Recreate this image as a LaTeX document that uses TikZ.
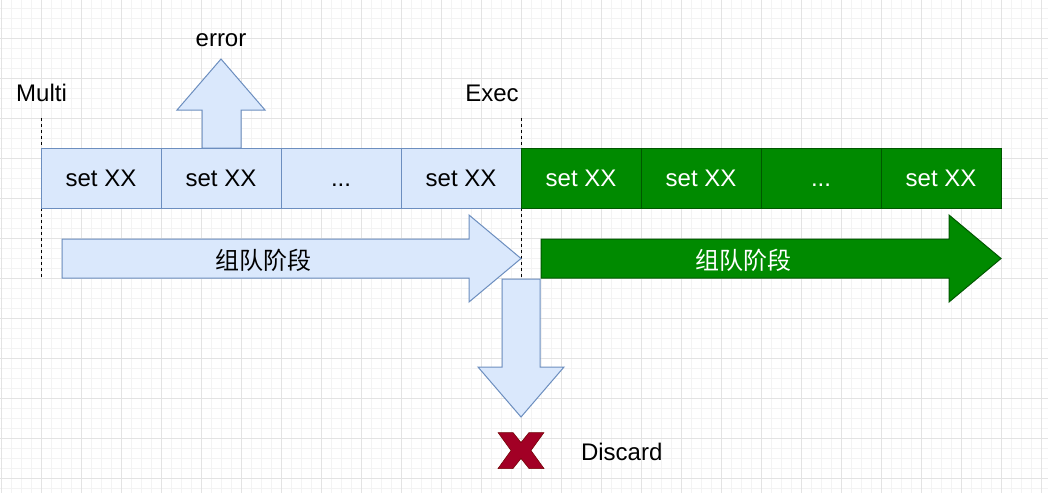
\documentclass[tikz,border=0pt]{standalone}
\usepackage{fontspec}
\setmainfont{Liberation Sans}
\newfontfamily\cjk{Noto Sans CJK SC}
\definecolor{bluefill}{HTML}{DAE8FC}
\definecolor{bluestroke}{HTML}{6C8EBF}
\definecolor{greenfill}{HTML}{008A00}
\definecolor{greenstroke}{HTML}{005700}
\definecolor{xred}{HTML}{A20025}
\definecolor{xdark}{HTML}{6F0000}
\definecolor{gridminor}{HTML}{F3F3F3}
\definecolor{gridmajor}{HTML}{E3E3E3}
\tikzset{
  cellbase/.style={line width=1pt, minimum width=120, minimum height=60, inner sep=0, outer sep=0,
    text height=17, text depth=0, font=\fontsize{24}{28}\selectfont},
  bcell/.style={cellbase, draw=bluestroke, fill=bluefill, text=black},
  gcell/.style={cellbase, draw=greenstroke, fill=greenfill, text=white},
  barrow/.style={draw=bluestroke, fill=bluefill, line width=1pt, line join=miter},
  garrow/.style={draw=greenstroke, fill=greenfill, line width=1pt, line join=miter},
  lbl/.style={inner sep=0, anchor=base, font=\fontsize{24}{28}\selectfont},
  cjklbl/.style={inner sep=0, anchor=base, font=\fontsize{24}{28}\selectfont\cjk},
  dashline/.style={draw=black, line width=1pt, dash pattern=on 3pt off 3pt},
  gmin/.style={draw=gridminor, line width=0.8pt},
  gmaj/.style={draw=gridmajor, line width=0.8pt}
}
\begin{document}
\begin{tikzpicture}[x=1pt,y=-1pt]
\useasboundingbox (0,0) rectangle (1048,493);
\fill[white] (0,0) rectangle (1048,493);
% grid
\foreach \x in {1,11,...,1041} \draw[gmin] (\x,0) -- (\x,493);
\foreach \y in {8,18,...,488} \draw[gmin] (0,\y) -- (1048,\y);
\foreach \x in {1,41,...,1041} \draw[gmaj] (\x,0) -- (\x,493);
\foreach \y in {38,78,...,478} \draw[gmaj] (0,\y) -- (1048,\y);
% dashed markers
\coordinate (mtop) at (41,118);
\coordinate (mbot) at (41,278);
\coordinate (etop) at (521,118);
\coordinate (ebot) at (521,279);
\draw[dashline] (mtop) -- (mbot);
\draw[dashline] (etop) -- (ebot);
% labels
\node[lbl] (multi) at (41.5,101.7) {Multi};
\node[lbl] (exec) at (492,101.7) {Exec};
\node[lbl] (err) at (221,46) {error};
\node[lbl] (discard) at (621.7,460) {Discard};
% error arrow (up)
\draw[barrow] (202,148) -- (202,110) -- (177,110) -- (221,59) -- (265,110) -- (241,110) -- (241,148) -- cycle;
% boxes
\node[bcell] (b1) at (101,178) {set XX};
\node[bcell] (b2) at (221,178) {set XX};
\node[bcell] (b3) at (341,178) {...};
\node[bcell] (b4) at (461,178) {set XX};
\node[gcell] (g1) at (581,178) {set XX};
\node[gcell] (g2) at (701,178) {set XX};
\node[gcell] (g3) at (821,178) {...};
\node[gcell] (g4) at (941,178) {set XX};
% queue arrows
\draw[barrow] (62,239) -- (469,239) -- (469,215) -- (521,258.5) -- (469,302) -- (469,278) -- (62,278) -- cycle;
\node[cjklbl] (q1) at (263,269.5) {组队阶段};
\draw[garrow] (541,239) -- (949,239) -- (949,215) -- (1001,258.5) -- (949,302) -- (949,278) -- (541,278) -- cycle;
\node[cjklbl, text=white] (q2) at (743,269.5) {组队阶段};
% discard arrow (down)
\draw[barrow] (502,279) -- (540,279) -- (540,367) -- (564,367) -- (521,417) -- (478,367) -- (502,367) -- cycle;
% X mark
\begin{scope}[shift={(521,450.5)}]
\fill[xred, draw=xdark, line width=0.5pt, line join=miter]
  (-23,-18) -- (-8,-18) -- (0,-8) -- (8,-18) -- (23,-18) -- (10,0) -- (23,18) -- (8,18)
  -- (0,8) -- (-8,18) -- (-23,18) -- (-10,0) -- cycle;
\end{scope}
\end{tikzpicture}
\end{document}
